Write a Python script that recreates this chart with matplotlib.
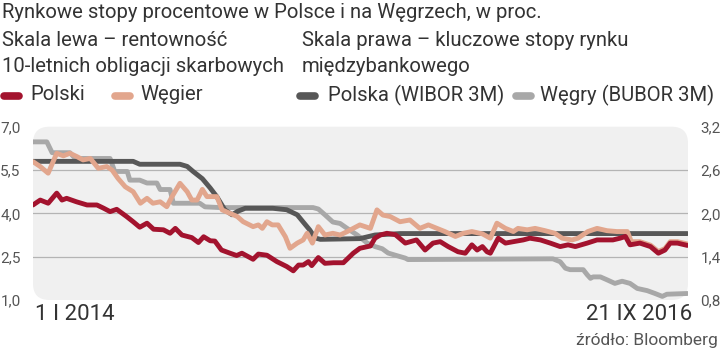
import numpy as np
import matplotlib
matplotlib.use('Agg')
import matplotlib.pyplot as plt
from matplotlib.patches import FancyBboxPatch
from matplotlib.lines import Line2D

plt.rcParams['font.family'] = ['Roboto', 'DejaVu Sans']

start = np.datetime64('2014-01-01')

# rentownosc 10-letnich obligacji, Polska (skala lewa), dni od 1 I 2014
pl_days = [0, 11, 23, 36, 44, 51, 66, 82, 97, 107, 117, 127, 142, 152, 162, 173, 183, 198,
           208, 216, 226, 241, 251, 259, 269, 276, 286, 299, 309, 317, 334, 342, 355, 370,
           385, 395, 403, 410, 418, 423, 433, 443, 456, 471, 486, 496, 512, 519, 527, 537,
           550, 565, 582, 595, 607, 618, 630, 645, 656, 666, 674, 682, 689, 694, 706, 717,
           729, 744, 754, 770, 785, 800, 812, 823, 841, 856, 871, 880, 891, 899, 906, 921,
           937, 949, 959, 967, 978, 993]
pl_vals = [4.29, 4.46, 4.35, 4.70, 4.46, 4.52, 4.40, 4.29, 4.29, 4.18, 4.06, 4.14, 3.89, 3.71,
           3.52, 3.66, 3.45, 3.43, 3.31, 3.48, 3.25, 3.16, 2.99, 3.19, 3.05, 3.04, 2.73, 2.62,
           2.54, 2.62, 2.41, 2.59, 2.55, 2.33, 2.16, 2.01, 2.21, 2.21, 2.33, 2.19, 2.47, 2.27,
           2.29, 2.29, 2.62, 2.79, 2.87, 3.14, 3.25, 3.31, 3.26, 2.97, 3.08, 2.73, 2.97, 3.02,
           2.85, 2.67, 2.62, 2.91, 2.73, 2.85, 2.67, 2.62, 3.14, 2.97, 3.02, 3.08, 3.14, 3.08,
           2.97, 2.85, 2.91, 2.85, 2.97, 3.08, 3.08, 3.08, 3.14, 3.20, 2.91, 2.97, 2.85, 2.62,
           2.73, 2.97, 2.97, 2.89]

# rentownosc 10-letnich obligacji, Wegry (skala lewa)
hu_days = [0, 11, 23, 36, 46, 56, 67, 76, 87, 99, 112, 120, 129, 140, 152, 163, 173, 182,
           193, 203, 211, 223, 234, 241, 249, 257, 264, 279, 287, 299, 310, 319, 334, 342,
           348, 355, 363, 372, 383, 390, 401, 410, 416, 424, 433, 443, 455, 466, 477, 486,
           496, 512, 522, 531, 542, 557, 572, 587, 600, 613, 625, 641, 653, 666, 682, 694,
           704, 717, 729, 736, 750, 762, 777, 792, 803, 818, 827, 842, 856, 871, 886, 902,
           908, 921, 937, 949, 959, 967, 978, 993]
hu_vals = [5.79, 5.62, 5.39, 6.08, 5.99, 6.08, 5.96, 5.85, 5.90, 5.56, 5.62, 5.50, 5.21, 4.92,
           4.75, 4.35, 4.52, 4.35, 4.40, 4.23, 4.58, 5.04, 4.75, 4.46, 4.46, 4.83, 4.58, 4.58,
           4.12, 4.00, 3.89, 3.71, 3.54, 3.60, 3.48, 3.71, 3.60, 3.60, 3.19, 2.79, 2.97, 3.08,
           3.31, 2.97, 3.54, 3.25, 3.31, 3.25, 3.37, 3.48, 3.60, 3.48, 4.12, 3.94, 3.89, 3.71,
           3.77, 3.48, 3.60, 3.48, 3.37, 3.20, 3.31, 3.37, 3.29, 3.14, 3.66, 3.48, 3.37, 3.48,
           3.43, 3.48, 3.40, 3.31, 3.14, 3.08, 3.14, 3.37, 3.48, 3.40, 3.37, 3.37, 3.02, 3.02,
           2.90, 2.68, 2.78, 3.02, 3.02, 2.94]

# WIBOR 3M (skala prawa)
wibor_days = [0, 152, 162, 223, 234, 243, 257, 269, 279, 291, 302, 311, 322, 364, 385, 401,
              410, 420, 428, 436, 496, 519, 557, 993]
wibor_vals = [2.72, 2.72, 2.68, 2.68, 2.65, 2.58, 2.48, 2.35, 2.23, 2.05, 1.98, 2.03, 2.07,
              2.07, 2.05, 1.98, 1.88, 1.77, 1.66, 1.64, 1.65, 1.70, 1.72, 1.72]

# BUBOR 3M (skala prawa)
bubor_days = [0, 21, 29, 56, 64, 117, 124, 143, 147, 162, 173, 188, 193, 208, 213, 253, 261,
              284, 425, 433, 443, 455, 466, 477, 492, 507, 519, 530, 539, 550, 565, 569, 789,
              800, 808, 815, 835, 841, 846, 850, 861, 871, 883, 894, 906, 917, 932, 944, 955,
              962, 993]
bubor_vals = [2.99, 2.99, 2.84, 2.84, 2.76, 2.76, 2.58, 2.58, 2.46, 2.46, 2.42, 2.42, 2.33,
              2.33, 2.14, 2.14, 2.09, 2.08, 2.08, 2.06, 1.98, 1.88, 1.86, 1.79, 1.70, 1.59,
              1.54, 1.51, 1.45, 1.42, 1.38, 1.36, 1.37, 1.33, 1.24, 1.22, 1.22, 1.15, 1.10,
              1.12, 1.12, 1.08, 1.03, 1.06, 1.03, 0.96, 0.93, 0.89, 0.85, 0.88, 0.89]

left_ticks = [1.0, 2.5, 4.0, 5.5, 7.0]
right_ticks = [0.8, 1.4, 2.0, 2.6, 3.2]

c_pl = '#a3132e'
c_hu = '#e2a68d'
c_wibor = '#575757'
c_bubor = '#a8a8a8'
c_text = '#333333'
fs = 14.6
lw = 3.5


def to_dates(days):
    return start + np.array(days).astype('timedelta64[D]')


def fmt(t):
    return f'{t:.1f}'.replace('.', ',')


fig = plt.figure(figsize=[7.2, 3.52], dpi=100)
ax2 = fig.add_axes([33/720, 52/352, 655/720, 173.3/352])
ax = ax2.twinx()
ax2.yaxis.tick_right()
ax.yaxis.tick_left()
ax2.set_zorder(1)
ax.set_zorder(2)

ax.set_xlim(start, start + np.timedelta64(994, 'D'))
ax.set_ylim(1.0, 7.0)
ax2.set_ylim(0.8, 3.2)

# tlo z zaokraglonymi rogami (za obiema osiami)
bg = FancyBboxPatch((0, 0), 1, 1, boxstyle='round,pad=0,rounding_size=0.025',
                    transform=ax.transAxes, facecolor='#f0f0f0', edgecolor='none',
                    zorder=0.5, mutation_aspect=655/173.3)
fig.add_artist(bg)
ax.patch.set_visible(False)
ax2.patch.set_visible(False)

for v in right_ticks[1:-1]:
    ax2.axhline(v, color='#b4b4b4', lw=0.9, zorder=1)

ax2.plot(to_dates(bubor_days), bubor_vals, color=c_bubor, lw=lw, solid_capstyle='round', zorder=2)
ax2.plot(to_dates(wibor_days), wibor_vals, color=c_wibor, lw=lw, solid_capstyle='round', zorder=3)
ax.plot(to_dates(hu_days), hu_vals, color=c_hu, lw=lw, solid_capstyle='round', zorder=4)
ax.plot(to_dates(pl_days), pl_vals, color=c_pl, lw=lw, solid_capstyle='round', zorder=5)

for a in (ax, ax2):
    for s in a.spines.values():
        s.set_visible(False)
    a.tick_params(length=0, labelsize=11, labelcolor='#555555')
    a.set_xticks([])
ax.set_yticks(left_ticks)
ax.set_yticklabels([fmt(t) for t in left_ticks])
ax.tick_params(axis='y', pad=9)
ax2.set_yticks(right_ticks)
ax2.set_yticklabels([fmt(t) for t in right_ticks])
ax2.tick_params(axis='y', pad=9)

# daty pod osia
fig.text(35/720, 1 - 314/352, '1 I 2014', fontsize=16, color=c_text, va='center', ha='left')
fig.text(692/720, 1 - 314/352, '21 IX 2016', fontsize=16, color=c_text, va='center', ha='right')
fig.text(718/720, 1 - 340/352, 'źródło: Bloomberg', fontsize=12.5, color='#555555',
         va='center', ha='right')

# naglowek
fig.text(2/720, 1 - 12/352, 'Rynkowe stopy procentowe w Polsce i na Węgrzech, w proc.',
         fontsize=fs, color=c_text, va='center', ha='left')
fig.text(2/720, 1 - 40/352, 'Skala lewa – rentowność', fontsize=fs, color=c_text, va='center')
fig.text(2/720, 1 - 67/352, '10-letnich obligacji skarbowych', fontsize=fs, color=c_text, va='center')
fig.text(302/720, 1 - 40/352, 'Skala prawa – kluczowe stopy rynku', fontsize=fs, color=c_text, va='center')
fig.text(302/720, 1 - 67/352, 'międzybankowego', fontsize=fs, color=c_text, va='center')

# legenda
legend_items = [(4, 30, c_pl, 'Polski'), (115, 140, c_hu, 'Węgier'),
                (300, 328, c_wibor, 'Polska (WIBOR 3M)'), (516, 540, c_bubor, 'Węgry (BUBOR 3M)')]
for mx, tx, col, lab in legend_items:
    fig.add_artist(Line2D([mx/720, (mx + 15)/720], [1 - 96/352, 1 - 96/352], color=col,
                          lw=5.5, solid_capstyle='round', transform=fig.transFigure))
    fig.text(tx/720, 1 - 95/352, lab, fontsize=fs, color=c_text, va='center', ha='left')

plt.savefig('out.png', dpi=100)
